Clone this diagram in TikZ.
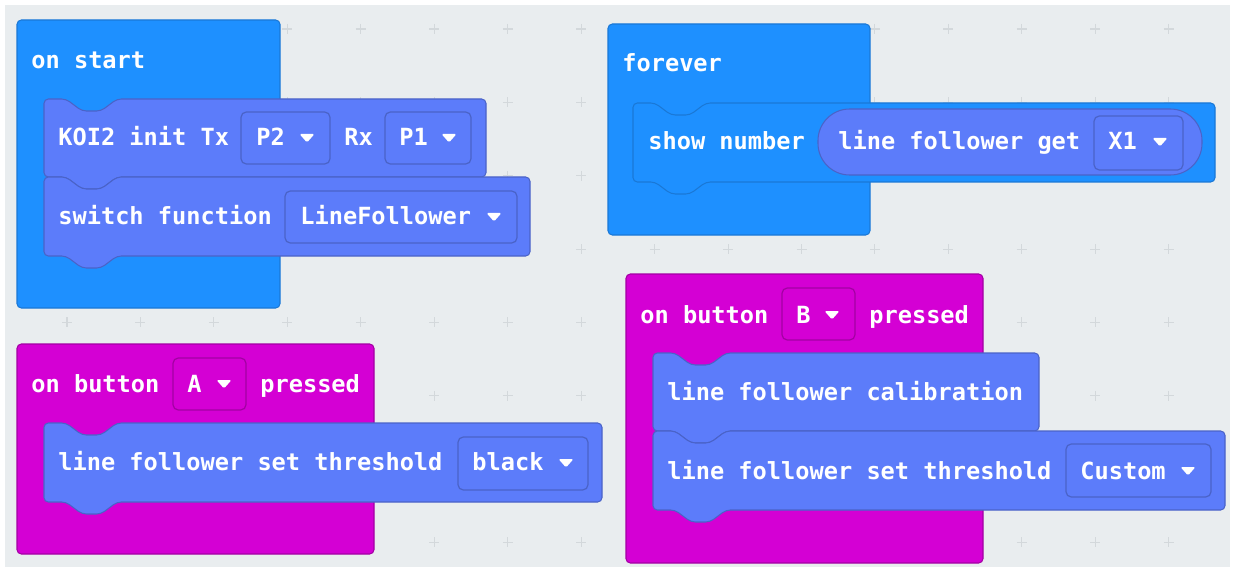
\documentclass[tikz,border=0pt]{standalone}
\usepackage{fontspec}
\newfontfamily\blockfont{DejaVu Sans Mono}

\definecolor{bggray}{HTML}{E9EDEF}
\definecolor{gridgray}{HTML}{D3D8DB}
\definecolor{mcblue}{HTML}{1E90FF}
\definecolor{mcblueline}{HTML}{1A78D6}
\definecolor{mckoi}{HTML}{5C7CFA}
\definecolor{mckoiline}{HTML}{4A63C8}
\definecolor{mcpink}{HTML}{D400D4}
\definecolor{mcpinkline}{HTML}{A300A3}

% statement block with notch on top and tab below: style, x0, y0, x1, y1
\newcommand{\stmtblock}[5]{%
  \draw[#1] (#2,#5) -- (#2,#3) -- (#2+22,#3) -- (#2+38,#3+12) -- (#2+57,#3+12) -- (#2+73,#3)
    -- (#4,#3) -- (#4,#5) -- (#2+73,#5) -- (#2+57,#5+12) -- (#2+38,#5+12) -- (#2+22,#5) -- cycle;}
% little dropdown arrow
\newcommand{\droptri}[2]{%
  \fill[white, rounded corners=0.8pt] (#1-7.5,#2-4) -- (#1+7.5,#2-4) -- (#1,#2+4.5) -- cycle;}

\tikzset{
  basic/.style={fill=mcblue, draw=mcblueline, line width=0.6pt, rounded corners=2.5pt},
  koi/.style={fill=mckoi, draw=mckoiline, line width=0.6pt, rounded corners=2.5pt},
  inputs/.style={fill=mcpink, draw=mcpinkline, line width=0.6pt, rounded corners=2.5pt},
  koidrop/.style={fill=mckoi, draw=mckoiline, line width=0.7pt, rounded corners=3pt},
  pinkdrop/.style={fill=mcpink, draw=mcpinkline, line width=0.7pt, rounded corners=3pt},
  lbl/.style={text=white, anchor=base west, inner sep=0pt,
    font=\blockfont\bfseries\fontsize{13.45}{16}\selectfont},
  gridplus/.style={draw=gridgray, line width=0.6pt}
}

\begin{document}
\begin{tikzpicture}[x=0.02cm, y=-0.02cm]
  \useasboundingbox (0,0) rectangle (1235,571);
  \fill[white] (0,0) rectangle (1235,571);
  \fill[bggray] (5,5) rectangle (1230,567);
  \foreach \i in {0,...,15}
    \foreach \j in {0,...,7}
      \draw[gridplus] (67+73.45*\i-5,29+73.35*\j) -- ++(10,0)
                      (67+73.45*\i,29+73.35*\j-5) -- ++(0,10);

  % on start
  \draw[basic] (17,20) rectangle (280,308);
  \node[lbl] (onstart) at (31,69) {on start};
  \stmtblock{koi}{44}{99}{486}{177}
  \node[lbl] (koiinit) at (58,146) {KOI2 init Tx};
  \draw[koidrop] (241,112) rectangle (330,164);
  \node[lbl] (txpin) at (256,146) {P2};
  \droptri{307}{138}
  \node[lbl] (rx) at (344,146) {Rx};
  \draw[koidrop] (385,112) rectangle (471,164);
  \node[lbl] (rxpin) at (399,146) {P1};
  \droptri{449}{138}
  \stmtblock{koi}{44}{177}{530}{256}
  \node[lbl] (switchfn) at (58,224) {switch function};
  \draw[koidrop] (285,191) rectangle (517,243);
  \node[lbl] (fnmode) at (300,224) {LineFollower};
  \droptri{494}{217}

  % forever
  \draw[basic] (608,24) rectangle (870,235);
  \node[lbl] (forever) at (622,72) {forever};
  \stmtblock{basic}{633}{103}{1215}{182}
  \node[lbl] (shownum) at (648,150) {show number};
  \draw[koi, rounded corners=18pt] (818,109) rectangle (1202,175);
  \node[lbl] (lfget) at (838,150) {line follower get};
  \draw[koidrop] (1094,116) rectangle (1183,170);
  \node[lbl] (sensor) at (1108,150) {X1};
  \droptri{1160}{142}

  % on button A pressed
  \draw[inputs] (17,344) rectangle (374,554);
  \node[lbl] (onbtna) at (31,392) {on button};
  \draw[pinkdrop] (173,358) rectangle (246,410);
  \node[lbl] (btna) at (187,392) {A};
  \droptri{224}{384}
  \node[lbl] (presseda) at (260,392) {pressed};
  \stmtblock{koi}{44}{423}{602}{502}
  \node[lbl] (threshblack) at (58,470) {line follower set threshold};
  \draw[koidrop] (458,437) rectangle (588,490);
  \node[lbl] (black) at (472,470) {black};
  \droptri{566}{463}

  % on button B pressed
  \draw[inputs] (626,274) rectangle (983,563);
  \node[lbl] (onbtnb) at (640,323) {on button};
  \draw[pinkdrop] (782,288) rectangle (855,340);
  \node[lbl] (btnb) at (796,323) {B};
  \droptri{832}{315}
  \node[lbl] (pressedb) at (869,323) {pressed};
  \stmtblock{koi}{653}{353}{1039}{431}
  \node[lbl] (calib) at (667,400) {line follower calibration};
  \stmtblock{koi}{653}{431}{1225}{510}
  \node[lbl] (threshcustom) at (667,479) {line follower set threshold};
  \draw[koidrop] (1066,444) rectangle (1211,497);
  \node[lbl] (custom) at (1080,479) {Custom};
  \droptri{1188}{471}
\end{tikzpicture}
\end{document}
